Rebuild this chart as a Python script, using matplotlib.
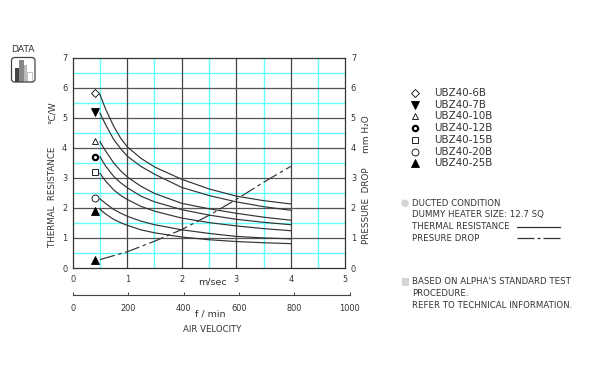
#!/usr/bin/env python
# -*- coding: UTF-8 -*-

import numpy as np
import matplotlib
matplotlib.use('Agg')
import matplotlib.pyplot as plt
from matplotlib.patches import FancyBboxPatch, Rectangle, Circle

plt.rcParams['font.family'] = ['DejaVu Sans']

W, H = 608, 367

models = ['UBZ40-6B', 'UBZ40-7B', 'UBZ40-10B', 'UBZ40-12B', 'UBZ40-15B', 'UBZ40-20B', 'UBZ40-25B']
marker_x = [0.4] * 7
marker_y = [5.82, 5.2, 4.23, 3.7, 3.2, 2.34, 1.9]

speed = [0.5, 0.6, 0.75, 0.875, 1.0, 1.25, 1.5, 2.0, 2.5, 3.0, 3.5, 4.0]
r_6b = [5.77, 5.3, 4.72, 4.33, 4.03, 3.65, 3.36, 2.95, 2.63, 2.39, 2.24, 2.13]
r_7b = [5.15, 4.78, 4.28, 3.98, 3.72, 3.38, 3.12, 2.68, 2.41, 2.2, 2.04, 1.92]
r_10b = [4.2, 3.9, 3.5, 3.24, 3.03, 2.72, 2.48, 2.15, 1.97, 1.82, 1.69, 1.59]
r_12b = [3.7, 3.4, 3.05, 2.84, 2.67, 2.39, 2.2, 1.94, 1.76, 1.62, 1.52, 1.44]
r_15b = [3.15, 2.9, 2.6, 2.42, 2.28, 2.05, 1.89, 1.66, 1.51, 1.4, 1.31, 1.24]
r_20b = [2.3, 2.15, 1.95, 1.83, 1.72, 1.56, 1.44, 1.27, 1.15, 1.05, 1.0, 0.97]
r_25b = [1.95, 1.8, 1.62, 1.51, 1.42, 1.27, 1.17, 1.03, 0.94, 0.88, 0.84, 0.81]
curves = [r_6b, r_7b, r_10b, r_12b, r_15b, r_20b, r_25b]

drop_x = [0.5, 1.0, 1.5, 2.0, 2.5, 3.0, 3.5, 4.0]
drop_y = [0.28, 0.54, 0.89, 1.28, 1.75, 2.28, 2.85, 3.38]
drop_marker = (0.4, 0.27)

styles = [('D', 'none'), ('v', 'k'), ('^', 'none'), ('o', 'none'), ('s', 'none'), ('o', 'none'), ('^', 'k')]
edge_w = [0.6, 0.6, 0.6, 1.6, 0.6, 0.6, 0.6]
sizes = [4.4, 5.2, 5, 3.8, 4.4, 5, 5.2]

notes1 = ['DUCTED CONDITION', 'DUMMY HEATER SIZE: 12.7 SQ', 'THERMAL RESISTANCE', 'PRESURE DROP']
notes2 = ["BASED ON ALPHA'S STANDARD TEST", 'PROCEDURE.', 'REFER TO TECHNICAL INFORMATION.']

TXT = '#333333'
CY = '#66ffff'
fs = 5.9

fig = plt.figure(figsize=(W / 100, H / 100), dpi=100)

def rect(x0, y0, x1, y1):
    return [x0 / W, 1 - y1 / H, (x1 - x0) / W, (y1 - y0) / H]

ax = fig.add_axes(rect(72.7, 57.5, 345.3, 268))
ax.set_xlim(0, 5)
ax.set_ylim(0, 7)
for x in np.arange(0.5, 5, 1):
    ax.axvline(x, color=CY, lw=1.0, zorder=1)
for y in np.arange(0.5, 7, 1):
    ax.axhline(y, color=CY, lw=1.0, zorder=1)
for x in range(1, 5):
    ax.axvline(x, color='#444444', lw=0.9, zorder=2)
for y in range(1, 7):
    ax.axhline(y, color='#555555', lw=0.9, zorder=2)
for s in ax.spines.values():
    s.set_linewidth(0.9)
    s.set_color('#333333')
ax.set_xticks(range(6))
ax.set_yticks(range(8))
ax.tick_params(length=0, labelsize=fs, pad=4, colors=TXT)
ax.tick_params(axis='y', labelright=True)
ax.tick_params(axis='x', pad=5)

for c in curves:
    ax.plot(speed, c, color='#333333', lw=0.85, zorder=3)
ax.plot(drop_x, drop_y, color='#333333', lw=0.85, dashes=(13, 3, 3, 3), zorder=3)
for i in range(7):
    m, fc = styles[i]
    ax.plot(marker_x[i], marker_y[i], m, ms=sizes[i], mfc=fc, mec='k', mew=edge_w[i],
            clip_on=False, zorder=4)
ax.plot(drop_marker[0], drop_marker[1], '^', ms=5.2, mfc='k', mec='k', mew=0.6, zorder=4)

# second scale under the chart
ax2 = fig.add_axes(rect(73, 294.5, 349.7, 295))
ax2.set_xlim(0, 1000)
ax2.set_yticks([])
ax2.set_xticks([0, 200, 400, 600, 800, 1000])
ax2.patch.set_visible(False)
for k in ['left', 'right', 'bottom']:
    ax2.spines[k].set_visible(False)
ax2.spines['top'].set_linewidth(0.8)
ax2.spines['top'].set_color('#444444')
ax2.xaxis.tick_top()
ax2.tick_params(axis='x', direction='out', length=2.5, width=0.7, color='#444444', labeltop=False, labelbottom=True,
                labelsize=fs, pad=4, labelcolor=TXT, bottom=False)

def t(x, y, s, **kw):
    kw.setdefault('fontsize', fs)
    kw.setdefault('color', TXT)
    kw.setdefault('va', 'center')
    fig.text(x / W, 1 - y / H, s, **kw)

t(212, 282, 'm/sec', ha='center', fontsize=6.8)
t(210, 314, 'f / min', ha='center', fontsize=6.8)
t(212, 329, 'AIR VELOCITY', ha='center', fontsize=6.1)
t(53, 197, 'THERMAL  RESISTANCE', rotation=90, ha='center', fontsize=6.2)
t(52, 113, '°C/W', rotation=90, ha='center', fontsize=6.5)
t(366.7, 206, 'PRESSURE  DROP', rotation=90, ha='center', fontsize=6.3)
t(366.7, 134, 'mm H\u2082O', rotation=90, ha='center', fontsize=6.5)
t(23, 50, 'DATA', ha='center', fontsize=6.6)

# DATA icon
overlay = fig.add_axes([0, 0, 1, 1], zorder=5)
overlay.set_xlim(0, W)
overlay.set_ylim(H, 0)
overlay.axis('off')
overlay.add_patch(Rectangle((15, 68), 4, 13.5, fc='#444444', ec='none'))
overlay.add_patch(Rectangle((19, 60), 4.5, 21.5, fc='#888888', ec='none'))
overlay.add_patch(Rectangle((23.5, 65), 3.2, 16.5, fc='#bbbbbb', ec='none'))
overlay.add_patch(Rectangle((26.7, 71.7), 5, 9.8, fc='white', ec='#aaaaaa', lw=0.5))
overlay.add_patch(FancyBboxPatch((11.5, 57.5), 23.5, 24.5, boxstyle='round,pad=0,rounding_size=3',
                                 fc='none', ec='#444444', lw=0.9))

# legend
legend_y = [93.3, 105, 116, 128.3, 140, 151.7, 163.3]
for i, name in enumerate(models):
    m, fc = styles[i]
    overlay.plot(415, legend_y[i], m, ms=sizes[i], mfc=fc, mec='k', mew=edge_w[i])
    t(434, legend_y[i], name, fontsize=7.4)

overlay.add_patch(Circle((405, 203.3), 3.8, fc='#d5d5d5', ec='none'))
for i, s in enumerate(notes1):
    t(412.3, 203.3 + i * 11.6, s, fontsize=6.2)
overlay.plot([517.3, 560], [226.7, 226.7], color='#333333', lw=0.9)
overlay.plot([517.3, 560], [238.2, 238.2], color='#333333', lw=0.9, dashes=(13.6, 2.4, 2.4, 2.4))

overlay.add_patch(Rectangle((402, 278), 7, 7.5, fc='#d5d5d5', ec='none'))
for i, s in enumerate(notes2):
    t(412.5, 281.7 + i * 11.7, s, fontsize=6.2)

fig.savefig('out.png', dpi=100)
